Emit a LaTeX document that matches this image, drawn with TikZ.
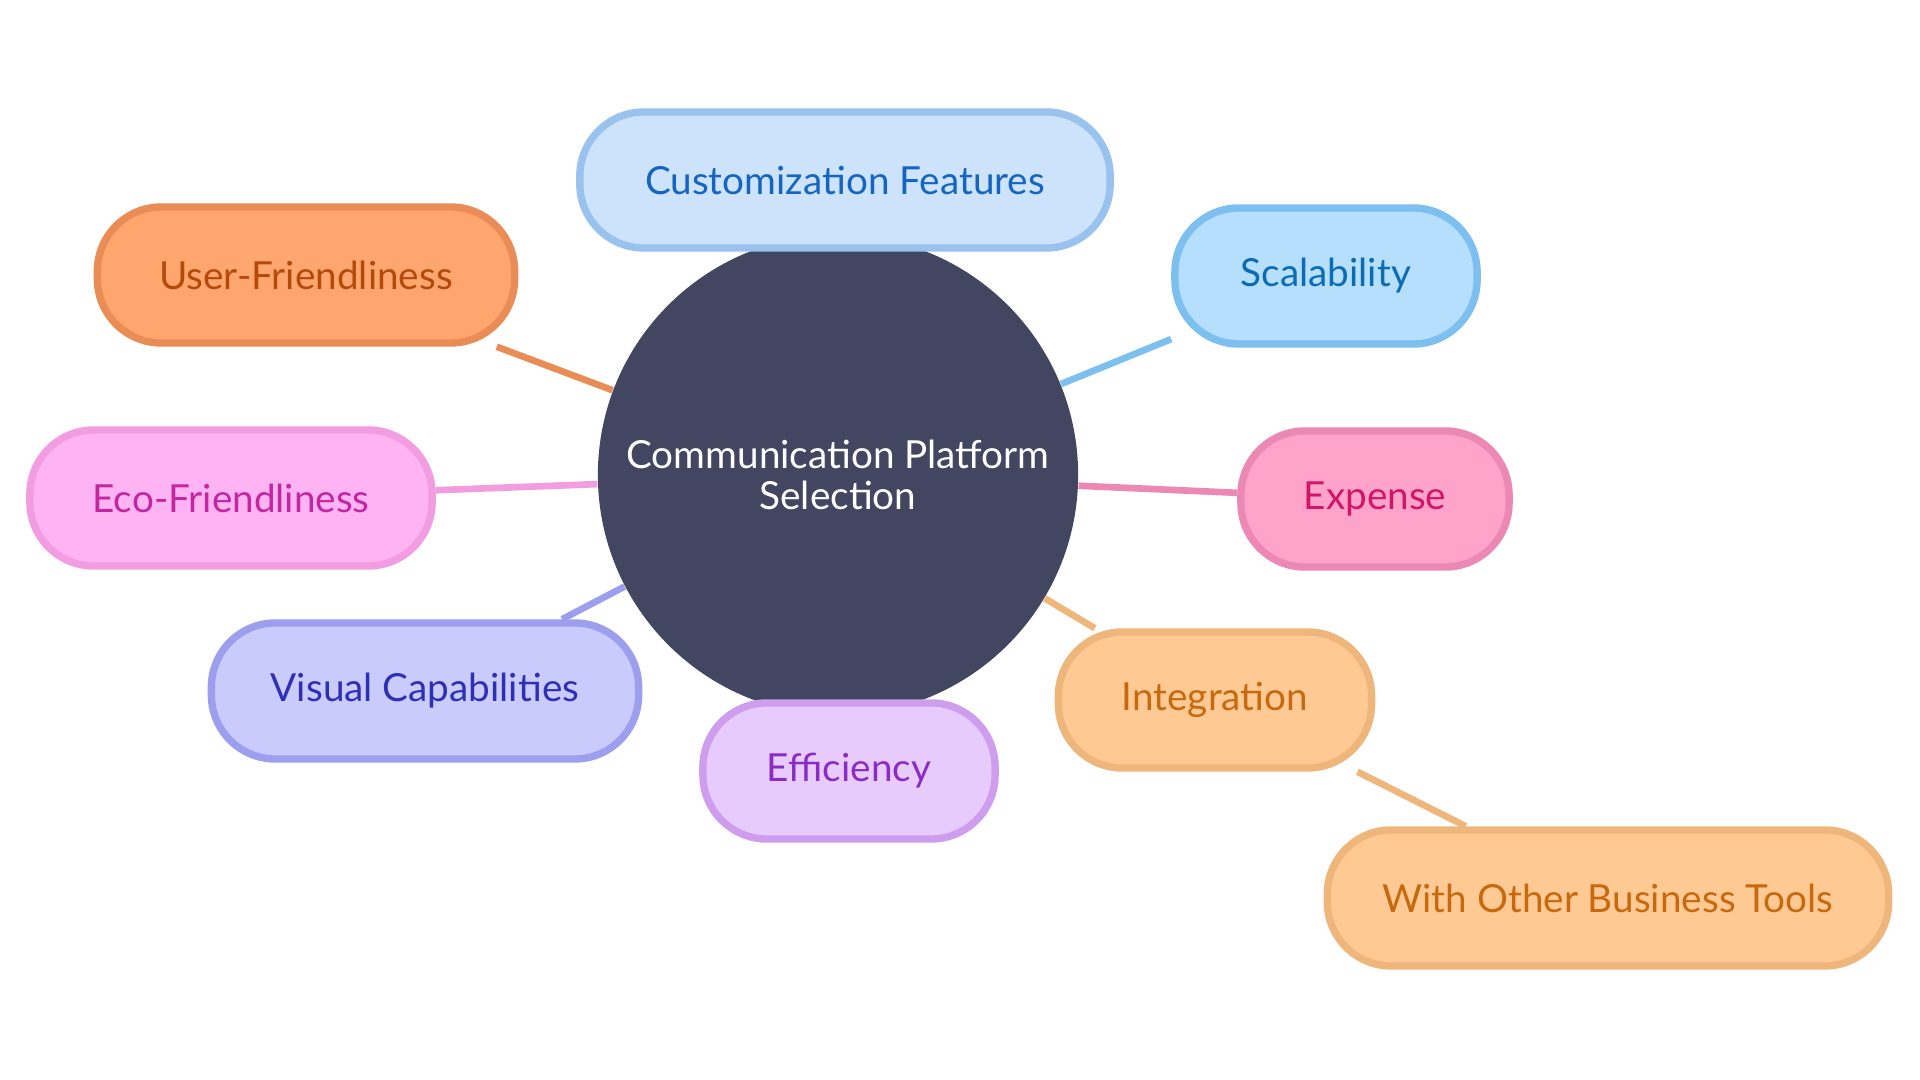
\documentclass[tikz,border=0pt]{standalone}
\usepackage{fontspec}
\setmainfont{Lato}
\usepackage{tikz}
\usepackage{xcolor}

\definecolor{hubfill}{HTML}{424660}
\definecolor{userfill}{HTML}{FFA66E}\definecolor{userline}{HTML}{EA8C55}\definecolor{usertext}{HTML}{B34A0C}
\definecolor{custfill}{HTML}{CCE3FB}\definecolor{custline}{HTML}{9AC2EE}\definecolor{custtext}{HTML}{1565C0}
\definecolor{scalfill}{HTML}{B5DFFD}\definecolor{scalline}{HTML}{7DBFEF}\definecolor{scaltext}{HTML}{0B6BB3}
\definecolor{ecofill}{HTML}{FEB3F3}\definecolor{ecoline}{HTML}{F29CE2}\definecolor{ecotext}{HTML}{C2279F}
\definecolor{expfill}{HTML}{FFA3CB}\definecolor{expline}{HTML}{EB88B4}\definecolor{exptext}{HTML}{D1166A}
\definecolor{visfill}{HTML}{CACBFD}\definecolor{visline}{HTML}{9C9EEE}\definecolor{vistext}{HTML}{2E30B4}
\definecolor{efffill}{HTML}{E8CBFD}\definecolor{effline}{HTML}{CE9DEE}\definecolor{efftext}{HTML}{8A2CC4}
\definecolor{intfill}{HTML}{FFC994}\definecolor{intline}{HTML}{EFB67B}\definecolor{inttext}{HTML}{C7690F}

\pgfdeclarelayer{bg}
\pgfsetlayers{bg,main}

\begin{document}
\begin{tikzpicture}[x=0.01cm, y=-0.01cm,
    leaf/.style={rectangle, rounded corners=0.64cm, line width=2.1pt, minimum height=1.36cm, inner sep=0pt, font=\fontsize{11}{13}\selectfont},
    hub/.style={circle, fill=hubfill, text=white, minimum size=4.8cm, inner sep=0pt, align=center, font=\fontsize{11}{11.5}\selectfont},
    link/.style={line width=1.9pt}]
                \useasboundingbox (0,0) rectangle (1920,1080);
                \node[hub] (hub) at (838,475) {Communication Platform\\Selection};

                \node[leaf, fill=custfill, draw=custline, text=custtext, minimum width=5.30cm] (cust) at (845,180) {Customization Features};
                \node[leaf, fill=userfill, draw=userline, text=usertext, minimum width=4.17cm] (user) at (306,275) {User-Friendliness};
                \node[leaf, fill=scalfill, draw=scalline, text=scaltext, minimum width=3.02cm] (scal) at (1326,276) {Scalability};
                \node[leaf, fill=ecofill, draw=ecoline, text=ecotext, minimum width=4.02cm] (eco) at (231,498) {Eco-Friendliness};
                \node[leaf, fill=expfill, draw=expline, text=exptext, minimum width=2.68cm] (exp) at (1375,499) {Expense};
                \node[leaf, fill=visfill, draw=visline, text=vistext, minimum width=4.27cm] (vis) at (425,691) {Visual Capabilities};
                \node[leaf, fill=efffill, draw=effline, text=efftext, minimum width=2.92cm] (eff) at (849,771) {Efficiency};
                \node[leaf, fill=intfill, draw=intline, text=inttext, minimum width=3.13cm] (int) at (1215,700) {Integration};
                \node[leaf, fill=intfill, draw=intline, text=inttext, minimum width=5.61cm] (tools) at (1608,898) {With Other Business Tools};

                \begin{pgfonlayer}{bg}
                \draw[link, draw=custline] (hub) -- (cust);
                \draw[link, draw=userline] (hub) -- (user);
                \draw[link, draw=scalline] (hub) -- (scal);
                \draw[link, draw=ecoline] (hub) -- (eco);
                \draw[link, draw=expline] (hub) -- (exp);
                \draw[link, draw=visline] (hub) -- (vis);
                \draw[link, draw=effline] (hub) -- (eff);
                \draw[link, draw=intline] (hub) -- (int);
                \draw[link, draw=intline] (int) -- (tools);
                \end{pgfonlayer}
            \end{tikzpicture}
\end{document}
